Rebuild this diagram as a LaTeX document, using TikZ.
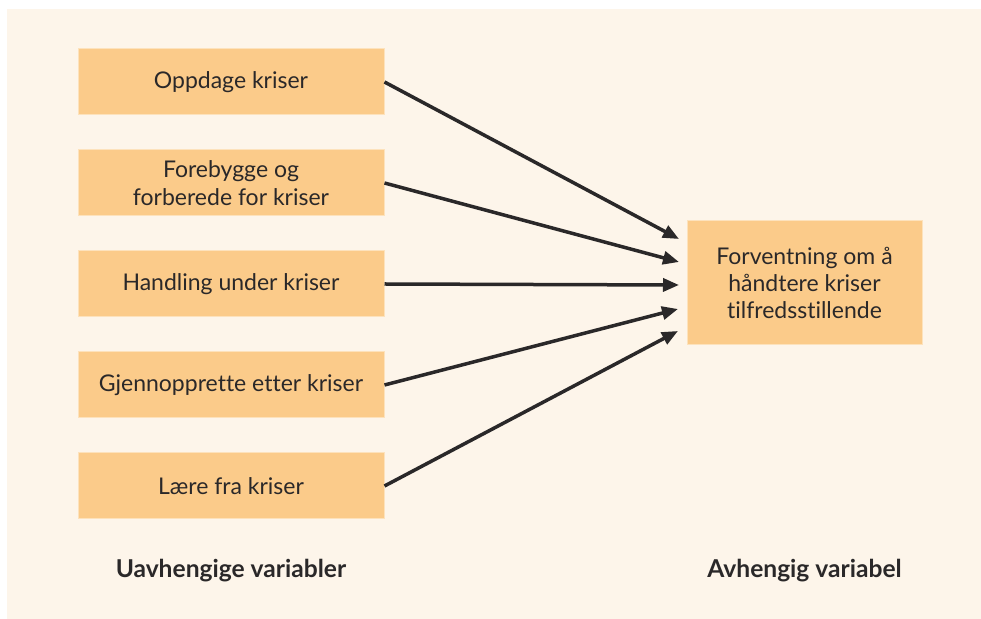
\documentclass[tikz,border=0pt]{standalone}
\usepackage{fontspec}
\setmainfont{Lato}[Ligatures=NoCommon]
\usetikzlibrary{arrows.meta}
\definecolor{panel}{HTML}{FDF5EA}
\definecolor{boxfill}{HTML}{FBCB8A}
\definecolor{boxedge}{HTML}{FDE2BC}
\definecolor{ink}{HTML}{2A2829}
\tikzset{
  varbox/.style={draw=boxedge, line width=0.5pt, fill=boxfill, text=ink,
    minimum width=153pt, minimum height=33pt, inner sep=0pt, align=center,
    font=\fontsize{11.5}{13.7}\selectfont},
  outbox/.style={varbox, minimum width=117.5pt, minimum height=62pt},
  caption/.style={text=ink, font=\fontsize{12.3}{14}\selectfont\bfseries},
  link/.style={draw=ink, line width=1.75pt,
    -{Triangle[length=8pt, width=6.5pt]}}
}
\begin{document}
\begin{tikzpicture}[x=0.5pt, y=-0.5pt]
  \useasboundingbox (0,0) rectangle (981,619);
  \fill[white] (0,0) rectangle (981,619);
  \fill[panel] (7,9) rectangle (981,619);

  % independent variables
  \node[varbox] (v1) at (231,82)  {Oppdage kriser};
  \node[varbox] (v2) at (231,183) {Forebygge og\\forberede for kriser};
  \node[varbox] (v3) at (231,284) {Handling under kriser};
  \node[varbox] (v4) at (231,385) {Gjennopprette etter kriser};
  \node[varbox] (v5) at (231,486) {Lære fra kriser};

  % dependent variable
  \node[outbox] (dv) at (804.5,283) {Forventning om å\\håndtere kriser\\tilfredsstillende};

  % arrow targets along the left side of the outcome box
  \coordinate (t1) at (679,239);
  \coordinate (t2) at (679,262);
  \coordinate (t3) at (679,285);
  \coordinate (t4) at (678,309);
  \coordinate (t5) at (678,331);

  \draw[link] (v1.east) -- (t1);
  \draw[link] (v2.east) -- (t2);
  \draw[link] (v3.east) -- (t3);
  \draw[link] (v4.east) -- (t4);
  \draw[link] (v5.east) -- (t5);

  % column captions
  \node[caption] (c1) at (231,571) {Uavhengige variabler};
  \node[caption] (c2) at (804.5,571) {Avhengig variabel};
\end{tikzpicture}
\end{document}
